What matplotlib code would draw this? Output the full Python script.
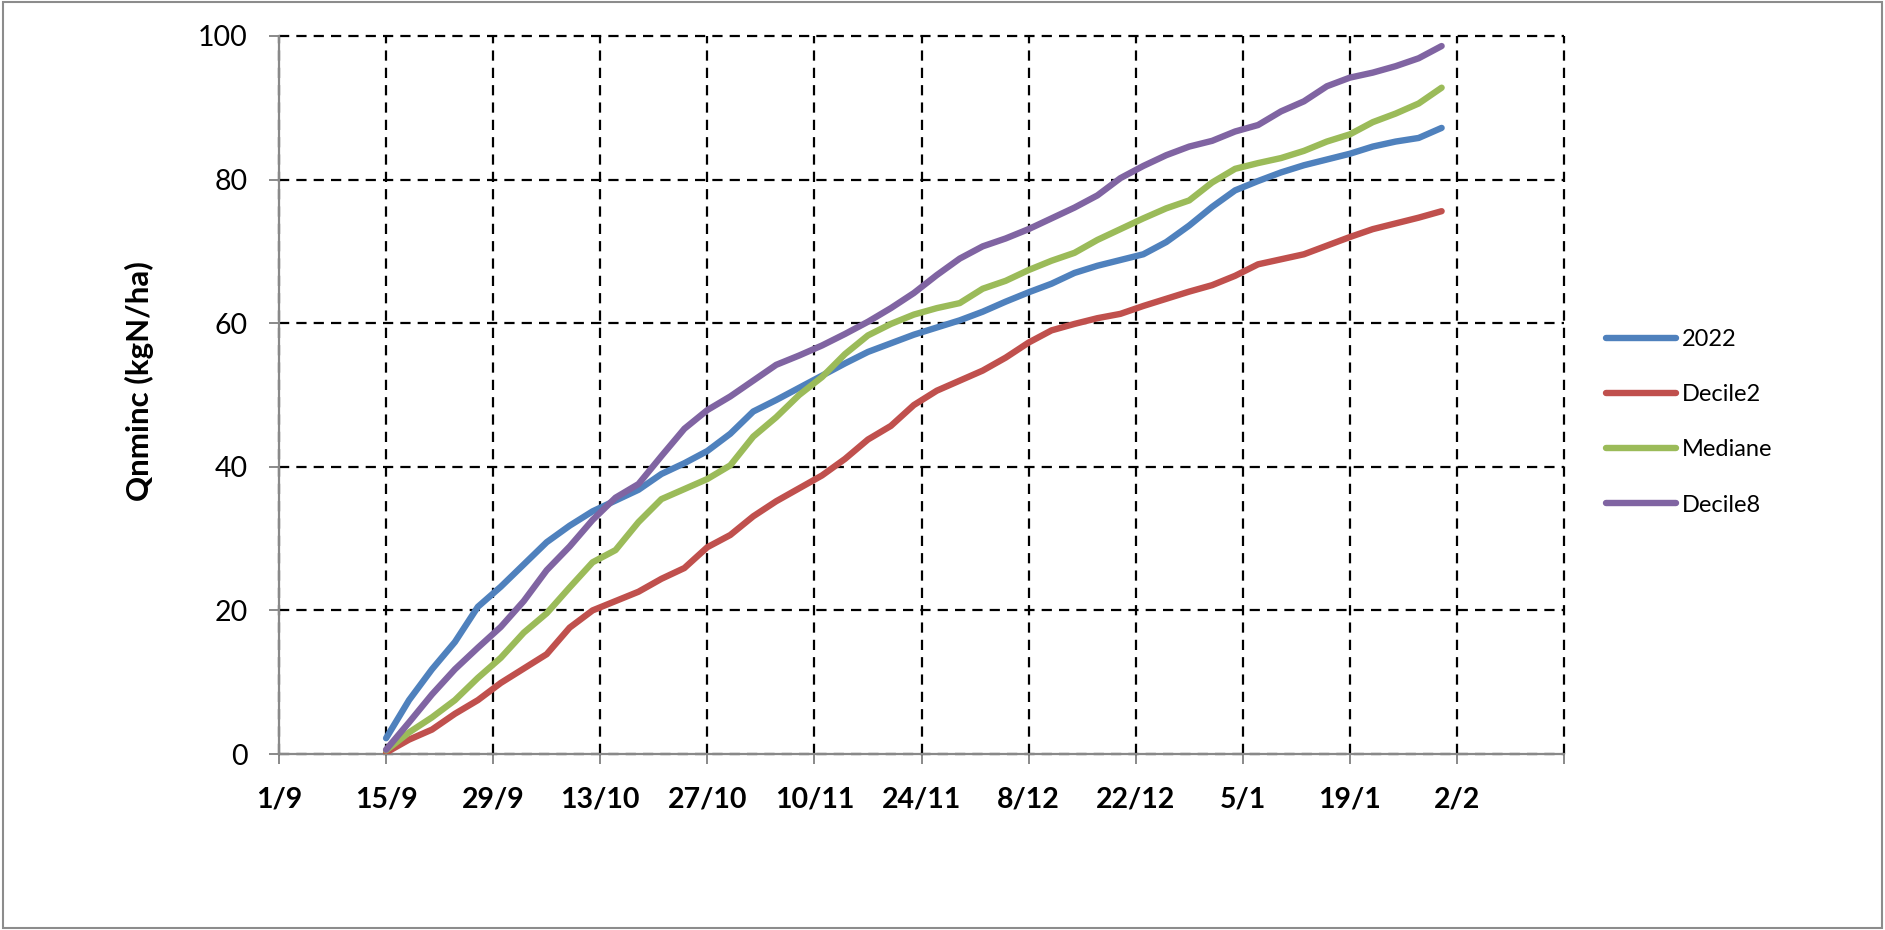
import matplotlib
matplotlib.use("Agg")
import matplotlib.pyplot as plt
from matplotlib.patches import Rectangle

# ---- data (days since 1 September) ----
days = list(range(14, 153, 3))

s2022 = [2.2, 7.5, 11.8, 15.6, 20.5, 23.3, 26.4, 29.5, 31.8, 33.8, 35.3, 36.8, 39.0, 40.5,
         42.2, 44.6, 47.7, 49.3, 51.0, 52.7, 54.4, 56.0, 57.2, 58.4, 59.4, 60.4, 61.6, 63.0,
         64.3, 65.5, 67.0, 68.0, 68.8, 69.6, 71.3, 73.6, 76.2, 78.5, 79.8, 81.0, 82.0, 82.8,
         83.6, 84.6, 85.3, 85.8, 87.2]

decile2 = [0.2, 2.0, 3.4, 5.6, 7.5, 9.9, 11.9, 13.9, 17.6, 20.0, 21.3, 22.6, 24.4, 25.9,
           28.8, 30.5, 33.1, 35.2, 37.0, 38.8, 41.1, 43.8, 45.7, 48.6, 50.6, 52.0, 53.4, 55.2,
           57.3, 59.0, 59.9, 60.7, 61.3, 62.4, 63.4, 64.4, 65.3, 66.6, 68.2, 68.9, 69.6, 70.8,
           72.0, 73.1, 73.9, 74.7, 75.6]

mediane = [0.5, 3.0, 5.1, 7.5, 10.6, 13.4, 16.9, 19.6, 23.2, 26.7, 28.4, 32.3, 35.5, 36.9,
           38.3, 40.2, 44.2, 46.9, 50.0, 52.5, 55.7, 58.3, 59.9, 61.2, 62.1, 62.8, 64.8, 65.9,
           67.4, 68.7, 69.8, 71.6, 73.1, 74.6, 76.0, 77.1, 79.6, 81.5, 82.3, 83.0, 84.0, 85.3,
           86.3, 88.0, 89.2, 90.6, 92.8]

decile8 = [0.6, 4.4, 8.3, 11.8, 14.8, 17.7, 21.3, 25.6, 28.9, 32.6, 35.7, 37.6, 41.5, 45.3,
           47.9, 49.8, 52.0, 54.2, 55.5, 56.9, 58.5, 60.2, 62.1, 64.2, 66.7, 69.0, 70.7, 71.8,
           73.1, 74.6, 76.1, 77.8, 80.2, 81.9, 83.4, 84.6, 85.4, 86.7, 87.6, 89.5, 90.9, 93.0,
           94.2, 94.9, 95.8, 96.9, 98.6]

series_names = ["2022", "Decile2", "Mediane", "Decile8"]
series_colors = ["#4F81BD", "#C0504D", "#9BBB59", "#8064A2"]

tick_days = list(range(0, 169, 14))
tick_labels = ["1/9", "15/9", "29/9", "13/10", "27/10", "10/11", "24/11", "8/12",
               "22/12", "5/1", "19/1", "2/2", ""]
y_ticks = [0, 20, 40, 60, 80, 100]

# ---- figure ----
plt.rcParams['font.family'] = ['Lato', 'DejaVu Sans']

fig = plt.figure(figsize=(18.85, 9.30), dpi=100)
ax = fig.add_axes([279/1885, 1 - 754/930, (1564 - 279)/1885, (754 - 36)/930])

for vals, name, col in zip([s2022, decile2, mediane, decile8], series_names, series_colors):
    ax.plot(days, vals, color=col, lw=4.6, label=name,
            solid_capstyle='round', solid_joinstyle='round', zorder=3)

ax.set_xlim(0, 168)
ax.set_ylim(0, 100)
ax.set_xticks(tick_days)
ax.set_xticklabels(tick_labels, fontweight='bold', fontsize=20.5)
ax.set_yticks(y_ticks)
ax.set_yticklabels([str(v) for v in y_ticks], fontsize=20.5)

ax.grid(True, color='black', lw=1.6, linestyle=(0, (4.6, 3.2)), zorder=1)
for gl in ax.get_xgridlines() + ax.get_ygridlines():
    gl.set_clip_on(False)
ax.set_axisbelow(True)

for sp in ['top', 'right']:
    ax.spines[sp].set_visible(False)
for sp in ['left', 'bottom']:
    ax.spines[sp].set_color('#898989')
    ax.spines[sp].set_linewidth(1.6)
    ax.spines[sp].set_zorder(2)

ax.tick_params(axis='both', direction='out', length=7.5, width=1.4, color='#898989')
ax.tick_params(axis='y', pad=15)
ax.tick_params(axis='x', pad=16)

fig.text(139/1885, 1 - 381/930, "Qnminc (kgN/ha)", rotation=90, fontsize=22.5,
         fontweight='bold', ha='center', va='center')

leg = fig.legend(loc='upper left', bbox_to_anchor=(1606/1885, 1 - 329/930),
                 frameon=False, fontsize=17, handlelength=2.95, handletextpad=0.25,
                 labelspacing=1.45, borderpad=0, borderaxespad=0)
for ln in leg.get_lines():
    ln.set_linewidth(4.6)
    ln.set_solid_capstyle('round')

fig.patches.append(Rectangle((0.0015, 0.002), 0.997, 0.996, transform=fig.transFigure,
                             fill=False, edgecolor='#8C8C8C', lw=1.5))

fig.savefig("out.png", dpi=100, facecolor='white')
